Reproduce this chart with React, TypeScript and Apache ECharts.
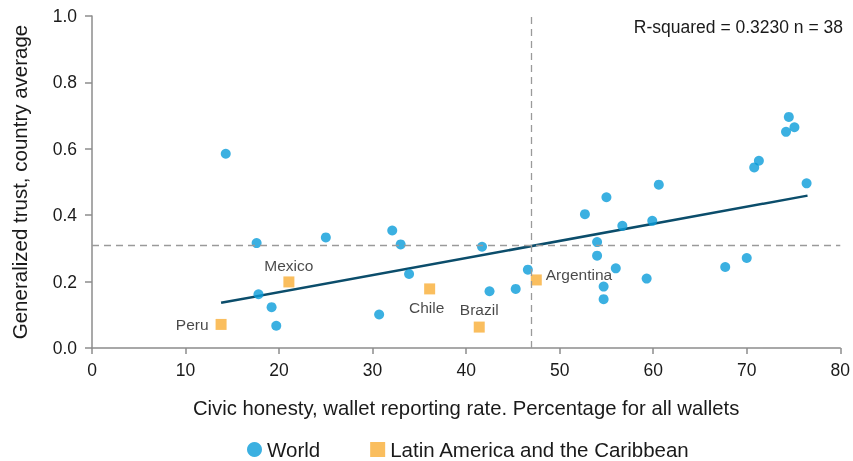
import React, { useEffect, useRef } from "react";
import * as echarts from "echarts";

// World countries: wallet reporting rate (%) and generalized trust
const worldX = [14.3, 17.6, 17.8, 19.2, 19.7, 25.0, 30.7, 32.1, 33.0, 33.9, 41.7, 42.5, 45.3, 46.6, 52.7, 54.0, 54.0, 54.7, 54.7, 55.0, 56.0, 56.7, 59.3, 59.9, 60.6, 67.7, 70.0, 70.8, 71.3, 74.2, 74.5, 75.1, 76.4];
const worldY = [0.585, 0.316, 0.162, 0.123, 0.067, 0.333, 0.101, 0.354, 0.312, 0.223, 0.305, 0.171, 0.178, 0.236, 0.403, 0.319, 0.278, 0.185, 0.147, 0.454, 0.240, 0.368, 0.209, 0.383, 0.492, 0.244, 0.271, 0.544, 0.564, 0.651, 0.696, 0.665, 0.496];

// Latin America and the Caribbean
const latamNames = ["Peru", "Mexico", "Chile", "Brazil", "Argentina"];
const latamX = [13.8, 21.05, 36.1, 41.4, 47.5];
const latamY = [0.071, 0.199, 0.178, 0.063, 0.205];

// Regression line endpoints and averages
const trendX = [13.8, 76.5];
const trendY = [0.136, 0.459];
const meanX = 47.0;
const meanY = 0.308;

const xTicks = { min: 0, max: 80, interval: 10 };
const yTicks = { min: 0, max: 1, interval: 0.2 };
const statText = "R-squared = 0.3230 n = 38";

const FONT = "'Liberation Sans', Arial, sans-serif";

const labelPos: Record<string, any> = {
  Peru: { position: "left", distance: 7 },
  Mexico: { position: "top", distance: 3 },
  Chile: { position: "bottom", distance: 5, offset: [-3, 0] },
  Brazil: { position: "top", distance: 4 },
  Argentina: { position: "right", distance: 4, offset: [0, -5] },
};

export default function App() {
  const ref = useRef<HTMLDivElement>(null);
  useEffect(() => {
    if (!ref.current) return;
    const chart = echarts.init(ref.current, null, { renderer: "svg" });
    const axisColor = "#8c8c8c";
    const textColor = "#1a1a1a";
    chart.setOption({
      animation: false,
      textStyle: { fontFamily: FONT },
      grid: { left: 92, right: 10, top: 16, bottom: 113 },
      xAxis: {
        type: "value",
        ...xTicks,
        name: "Civic honesty, wallet reporting rate. Percentage for all wallets",
        nameLocation: "middle",
        nameGap: 50,
        nameMoveOverlap: false,
        nameTextStyle: { fontFamily: FONT, fontSize: 20.3, color: textColor, verticalAlign: "top" },
        axisLine: { show: true, lineStyle: { color: axisColor, width: 1.5 } },
        axisTick: { show: true, inside: false, length: 6, lineStyle: { color: axisColor, width: 1.5 } },
        axisLabel: { fontFamily: FONT, fontSize: 17.5, color: textColor, margin: 13 },
        splitLine: { show: false },
      },
      yAxis: {
        type: "value",
        ...yTicks,
        name: "Generalized trust, country average",
        nameLocation: "middle",
        nameGap: 62,
        nameMoveOverlap: false,
        nameTextStyle: { fontFamily: FONT, fontSize: 20.5, color: textColor },
        axisLine: { show: true, lineStyle: { color: axisColor, width: 1.5 } },
        axisTick: { show: true, inside: false, length: 7, lineStyle: { color: axisColor, width: 1.5 } },
        axisLabel: { fontFamily: FONT, fontSize: 17.5, color: textColor, margin: 15, formatter: (v: number) => v.toFixed(1) },
        splitLine: { show: false },
      },
      legend: {
        bottom: -4,
        left: 242,
        itemGap: 50,
        itemWidth: 15,
        itemHeight: 15,
        textStyle: { fontFamily: FONT, fontSize: 20.5, color: textColor },
        data: [
          { name: "World", icon: "circle" },
          { name: "Latin America and the Caribbean", icon: "rect" },
        ],
      },
      graphic: [
        {
          type: "text",
          right: 10,
          top: 18,
          style: { text: statText, font: `17.5px ${FONT}`, fill: textColor },
        },
      ],
      series: [
        {
          name: "Trend",
          type: "line",
          data: trendX.map((x, i) => [x, trendY[i]]),
          symbol: "none",
          lineStyle: { color: "#0b4d6b", width: 2.5 },
          z: 3,
          markLine: {
            silent: true,
            symbol: "none",
            label: { show: false },
            lineStyle: { color: "#9a9a9a", type: [7, 5], width: 1.3 },
            data: [{ xAxis: meanX }, { yAxis: meanY }],
          },
        },
        {
          name: "World",
          type: "scatter",
          data: worldX.map((x, i) => [x, worldY[i]]),
          symbol: "circle",
          symbolSize: 10,
          itemStyle: { color: "#0a9cd9" },
          z: 4,
        },
        {
          name: "Latin America and the Caribbean",
          type: "scatter",
          symbol: "rect",
          symbolSize: 11,
          itemStyle: { color: "#f9ae36" },
          z: 4,
          data: latamNames.map((n, i) => ({
            name: n,
            value: [latamX[i], latamY[i]],
            label: {
              show: true,
              formatter: n,
              fontFamily: FONT,
              fontSize: 15.5,
              color: textColor,
              ...labelPos[n],
            },
          })),
        },
      ],
    });
    return () => chart.dispose();
  }, []);
  return <div ref={ref} style={{ position: "fixed", left: 0, top: 0, width: 853, height: 461 }} />;
}
